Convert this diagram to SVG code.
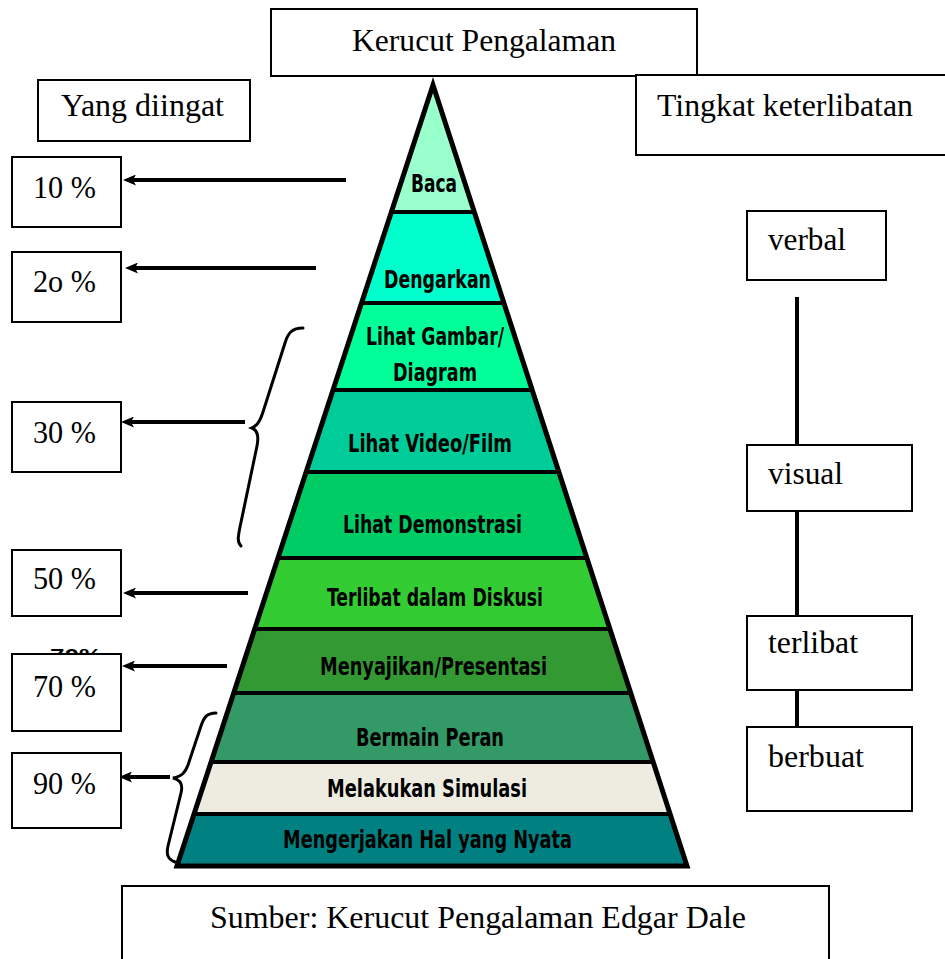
<svg xmlns="http://www.w3.org/2000/svg" width="945" height="959" viewBox="0 0 945 959">
<style>
.box{fill:#fff;stroke:#000;stroke-width:2}
.t{font-family:"Liberation Serif","Times New Roman",serif;font-size:31px;fill:#000}
.lbl{font-family:"DejaVu Sans Condensed","DejaVu Sans",sans-serif;font-weight:bold;font-size:24px;fill:#000;text-anchor:middle}
.sep{stroke:#000;stroke-width:4}
.arrow{stroke:#000;stroke-width:4;fill:none}
.brace{stroke:#000;stroke-width:3;fill:none;stroke-linecap:round}
.vline{stroke:#000;stroke-width:4}
</style>
<defs>
<marker id="ah" viewBox="0 0 13 11" refX="4" refY="5.5" markerWidth="13" markerHeight="11" markerUnits="userSpaceOnUse" orient="auto">
<path d="M0,0 L13,5.5 L0,11 L3,5.5 z" fill="#000"/>
</marker>
</defs>
<rect width="945" height="959" fill="#fff"/>

<g id="pyramid">
<polygon points="433,85 474.3,212 391.4,212" fill="#99FFCC"/>
<polygon points="391.4,212 474.3,212 503.9,303 361.5,303" fill="#00FFCC"/>
<polygon points="361.5,303 503.9,303 532.2,390 333,390" fill="#00FF99"/>
<polygon points="333,390 532.2,390 558.9,472 306.1,472" fill="#00CC99"/>
<polygon points="306.1,472 558.9,472 586.8,558 278,558" fill="#00CC66"/>
<polygon points="278,558 586.8,558 609.9,629 254.7,629" fill="#33CC33"/>
<polygon points="254.7,629 609.9,629 630.7,693 233.7,693" fill="#339933"/>
<polygon points="233.7,693 630.7,693 653.2,762 211.1,762" fill="#339966"/>
<polygon points="211.1,762 653.2,762 670.1,814 194,814" fill="#EEECE1"/>
<polygon points="194,814 670.1,814 687,866 177,866" fill="#008080"/>
<line class="sep" x1="391.4" y1="212" x2="474.3" y2="212"/>
<line class="sep" x1="361.5" y1="303" x2="503.9" y2="303"/>
<line class="sep" x1="333" y1="390" x2="532.2" y2="390"/>
<line class="sep" x1="306.1" y1="472" x2="558.9" y2="472"/>
<line class="sep" x1="278" y1="558" x2="586.8" y2="558"/>
<line class="sep" x1="254.7" y1="629" x2="609.9" y2="629"/>
<line class="sep" x1="233.7" y1="693" x2="630.7" y2="693"/>
<line class="sep" x1="211.1" y1="762" x2="653.2" y2="762"/>
<line class="sep" x1="194" y1="814" x2="670.1" y2="814"/>
<polygon points="433,85 687,866 177,866" fill="none" stroke="#000" stroke-width="5"/>
<text class="lbl" x="434" y="192" textLength="46" lengthAdjust="spacingAndGlyphs">Baca</text>
<text class="lbl" x="437.5" y="288" textLength="107" lengthAdjust="spacingAndGlyphs">Dengarkan</text>
<text class="lbl" x="435" y="345" textLength="138" lengthAdjust="spacingAndGlyphs">Lihat Gambar/</text>
<text class="lbl" x="435" y="381" textLength="84" lengthAdjust="spacingAndGlyphs">Diagram</text>
<text class="lbl" x="430" y="452" textLength="164" lengthAdjust="spacingAndGlyphs">Lihat Video/Film</text>
<text class="lbl" x="432.5" y="533" textLength="179" lengthAdjust="spacingAndGlyphs">Lihat Demonstrasi</text>
<text class="lbl" x="435" y="606" textLength="216" lengthAdjust="spacingAndGlyphs">Terlibat dalam Diskusi</text>
<text class="lbl" x="433.5" y="675" textLength="227" lengthAdjust="spacingAndGlyphs">Menyajikan/Presentasi</text>
<text class="lbl" x="430" y="746" textLength="148" lengthAdjust="spacingAndGlyphs">Bermain Peran</text>
<text class="lbl" x="427" y="797" textLength="200" lengthAdjust="spacingAndGlyphs">Melakukan Simulasi</text>
<text class="lbl" x="427.5" y="848" textLength="289" lengthAdjust="spacingAndGlyphs">Mengerjakan Hal yang Nyata</text>
</g>

<g id="connectors">
<line class="arrow" x1="346" y1="180" x2="132" y2="180" marker-end="url(#ah)"/>
<line class="arrow" x1="316" y1="268" x2="134" y2="268" marker-end="url(#ah)"/>
<line class="arrow" x1="245" y1="422" x2="130" y2="422" marker-end="url(#ah)"/>
<line class="arrow" x1="248" y1="593" x2="132" y2="593" marker-end="url(#ah)"/>
<line class="arrow" x1="227" y1="666" x2="131" y2="666" marker-end="url(#ah)"/>
<line class="arrow" x1="170" y1="777" x2="128" y2="777" marker-end="url(#ah)"/>
<path class="brace" d="M303,328 C292,328 288,333 285,343 L263,412 C260,422 257,426 252,428 C257,430 259,436 257,446 L240,527 C238,537 237,542 241,546"/>
<path class="brace" d="M216,713 C207,713 204,717 201,726 L188,765 C185,773 182,776 173,778 C181,780 183,785 181,793 L168,846 C166,855 168,859 175,862"/>
<line class="vline" x1="797" y1="297" x2="797" y2="445"/>
<line class="vline" x1="797" y1="511" x2="797" y2="616"/>
<line class="vline" x1="797" y1="690" x2="797" y2="727"/>
</g>

<g id="title">
<rect class="box" x="271" y="9" width="426" height="67"/>
<text class="t" x="352" y="51" textLength="264" lengthAdjust="spacingAndGlyphs">Kerucut Pengalaman</text>
</g>
<g id="yang-diingat">
<rect class="box" x="38" y="80" width="212" height="61"/>
<text class="t" x="61" y="116" textLength="163" lengthAdjust="spacingAndGlyphs">Yang diingat</text>
</g>
<g id="tingkat">
<rect class="box" x="636" y="75" width="320" height="80"/>
<text class="t" x="657" y="116" textLength="256" lengthAdjust="spacingAndGlyphs">Tingkat keterlibatan</text>
</g>
<g id="p10">
<rect class="box" x="12" y="157" width="109" height="70"/>
<text class="t" x="33" y="198" textLength="63" lengthAdjust="spacingAndGlyphs">10 %</text>
</g>
<g id="p20">
<rect class="box" x="12" y="252" width="109" height="70"/>
<text class="t" x="33" y="292" textLength="63" lengthAdjust="spacingAndGlyphs">2o %</text>
</g>
<g id="p30">
<rect class="box" x="12" y="402" width="109" height="70"/>
<text class="t" x="33" y="443" textLength="63" lengthAdjust="spacingAndGlyphs">30 %</text>
</g>
<g id="p50">
<rect class="box" x="12" y="550" width="109" height="66"/>
<text class="t" x="33" y="589" textLength="63" lengthAdjust="spacingAndGlyphs">50 %</text>
</g>
<g id="p70">
<text x="50" y="662" font-family="Liberation Sans, Arial, sans-serif" font-weight="bold" font-size="18" textLength="52" lengthAdjust="spacingAndGlyphs">70%</text>
<rect class="box" x="12" y="654" width="109" height="77"/>
<text class="t" x="33" y="697" textLength="63" lengthAdjust="spacingAndGlyphs">70 %</text>
</g>
<g id="p90">
<rect class="box" x="12" y="753" width="109" height="75"/>
<text class="t" x="33" y="794" textLength="63" lengthAdjust="spacingAndGlyphs">90 %</text>
</g>
<g id="verbal">
<rect class="box" x="747" y="211" width="139" height="69"/>
<text class="t" x="768" y="250" textLength="78" lengthAdjust="spacingAndGlyphs">verbal</text>
</g>
<g id="visual">
<rect class="box" x="747" y="445" width="165" height="66"/>
<text class="t" x="768" y="484" textLength="75" lengthAdjust="spacingAndGlyphs">visual</text>
</g>
<g id="terlibat">
<rect class="box" x="747" y="616" width="165" height="74"/>
<text class="t" x="768" y="653" textLength="90" lengthAdjust="spacingAndGlyphs">terlibat</text>
</g>
<g id="berbuat">
<rect class="box" x="747" y="727" width="165" height="84"/>
<text class="t" x="768" y="767" textLength="96" lengthAdjust="spacingAndGlyphs">berbuat</text>
</g>
<g id="sumber">
<rect class="box" x="122" y="886" width="707" height="80"/>
<text class="t" x="210" y="928" textLength="536" lengthAdjust="spacingAndGlyphs">Sumber: Kerucut Pengalaman Edgar Dale</text>
</g>
</svg>
